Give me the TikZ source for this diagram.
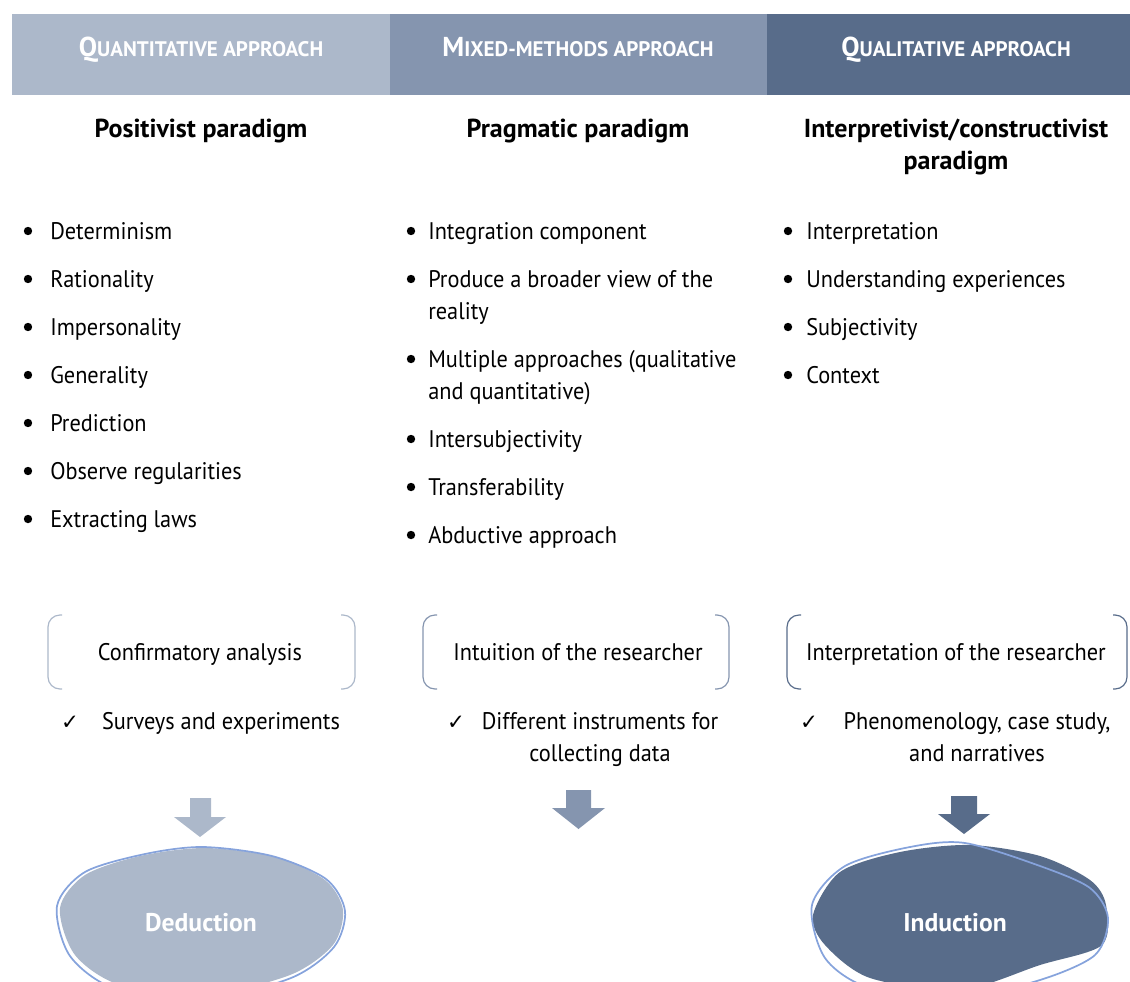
\documentclass[tikz,border=0pt]{standalone}
\usepackage{fontspec}
\setmainfont{PT Sans}
\newfontfamily\bodyfont{PT Sans}[FakeStretch=0.93]
\newfontfamily\symfont{DejaVu Sans}

\definecolor{quantc}{RGB}{172,184,202}
\definecolor{mixedc}{RGB}{133,149,175}
\definecolor{qualc}{RGB}{88,108,138}
\definecolor{rimblue}{RGB}{134,163,220}

% fake small caps for the column heads
\newcommand{\hdcaps}[2]{{\fontsize{20.5}{20}\selectfont #1}{\fontsize{15.8}{20}\selectfont #2}}
\newcommand{\tick}{{\symfont\fontsize{16}{16}\selectfont ✓}}

\tikzset{
  body/.style={font=\bodyfont\fontsize{18}{24}\selectfont, inner sep=0pt},
  head/.style={font=\bfseries, text=white, inner sep=0pt, anchor=base},
  paradigm/.style={font=\fontsize{19.5}{24}\selectfont\bfseries, inner sep=0pt, anchor=base, align=center},
  blob/.style={font=\fontsize{19.2}{24}\selectfont\bfseries, text=white, inner sep=0pt, anchor=base},
  bracket/.style={line width=0.9pt, rounded corners=9}
}

\begin{document}
\begin{tikzpicture}[x=0.75pt,y=0.75pt,yscale=-1,xscale=1]
\clip (0,0) rectangle (1130,981);
\path[use as bounding box] (0,0) rectangle (1130,981);

%Shape: Rectangle [head bands]
\fill[quantc] (12,14) rectangle (390,95);
\fill[mixedc] (390,14) rectangle (767,95);
\fill[qualc] (767,14) rectangle (1130,95);

% Text Node
\draw (201,57) node (hdquant) [head] {\hdcaps{Q}{UANTITATIVE APPROACH}};
% Text Node
\draw (578,57) node (hdmixed) [head] {\hdcaps{M}{IXED-METHODS APPROACH}};
% Text Node
\draw (956,57) node (hdqual) [head] {\hdcaps{Q}{UALITATIVE APPROACH}};

% Text Node
\draw (201,137) node (tpos) [paradigm] {Positivist paradigm};
% Text Node
\draw (578,137) node (tprag) [paradigm] {Pragmatic paradigm};
% Text Node (base sits on the last line)
\draw (956,169) node (tint) [paradigm] {Interpretivist/constructivist\\paradigm};

%Bullets: positivist
\foreach \yy/\txt [count=\i] in {239/Determinism,287/Rationality,335/Impersonality,383/Generality,431/Prediction,479/Observe regularities,527/Extracting laws}{
  \fill (28,\yy-8) circle (4.2);
  \draw (50,\yy) node (pos\i) [body, anchor=base west] {\txt};
}
%Bullets: pragmatic (\by = bullet line, \yy = last baseline)
\foreach \by/\yy/\txt [count=\i] in {239/239/Integration component,287/319/Produce a broader view of the\\reality,367/399/Multiple approaches (qualitative\\and quantitative),447/447/Intersubjectivity,495/495/Transferability,543/543/Abductive approach}{
  \fill (411,\by-8) circle (4.2);
  \draw (428,\yy) node (prag\i) [body, anchor=base west, align=left] {\txt};
}
%Bullets: interpretivist
\foreach \yy/\txt [count=\i] in {239/Interpretation,287/Understanding experiences,335/Subjectivity,383/Context}{
  \fill (788,\yy-8) circle (4.2);
  \draw (806,\yy) node (int\i) [body, anchor=base west] {\txt};
}

%Brackets
\draw[bracket, quantc] (62,615) -- (48,615) -- (48,689) -- (62,689);
\draw[bracket, quantc] (341,615) -- (355,615) -- (355,689) -- (341,689);
\draw[bracket, mixedc] (437,615) -- (423,615) -- (423,689) -- (437,689);
\draw[bracket, mixedc] (715,615) -- (729,615) -- (729,689) -- (715,689);
\draw[bracket, qualc] (801,615) -- (787,615) -- (787,689) -- (801,689);
\draw[bracket, qualc] (1113,615) -- (1127,615) -- (1127,689) -- (1113,689);

% Text Node
\draw (200,660) node (anquant) [body, anchor=base] {Confirmatory analysis};
% Text Node
\draw (578,660) node (anmixed) [body, anchor=base] {Intuition of the researcher};
% Text Node
\draw (956,660) node (anqual) [body, anchor=base] {Interpretation of the researcher};

% Text Node
\draw (70,729) node (ckquant) [body, anchor=base] {\tick};
\draw (221,729) node (inquant) [body, anchor=base] {Surveys and experiments};
% Text Node
\draw (456,729) node (ckmixed) [body, anchor=base] {\tick};
\draw (600,761) node (inmixed) [body, anchor=base, align=center] {Different instruments for\\collecting data};
% Text Node
\draw (809,729) node (ckqual) [body, anchor=base] {\tick};
\draw (977,761) node (inqual) [body, anchor=base, align=center] {Phenomenology, case study,\\and narratives};

%Shape: Down Arrow
\fill[quantc] (190,798) -- (211,798) -- (211,817) -- (226,817) -- (200,837) -- (174,817) -- (190,817) -- cycle;
\fill[mixedc] (566,790) -- (591,790) -- (591,808) -- (605,808) -- (578.5,829) -- (552,808) -- (566,808) -- cycle;
\fill[qualc] (951,796) -- (977,796) -- (977,814) -- (990,814) -- (964,834) -- (938,814) -- (951,814) -- cycle;

%Shape: Free Form [deduction]
\fill[quantc] plot[smooth cycle] coordinates {(60,908) (85,875) (140,856) (205,848) (275,857) (325,880) (343,910) (333,945) (290,975) (205,995) (120,985) (75,955)};
\draw[rimblue, line width=1.3pt] plot[smooth cycle] coordinates {(57,906) (85,872) (145,854) (203,847) (272,856) (326,879) (345,911) (334,947) (291,978) (205,999) (116,989) (70,956)};
% Text Node
\draw (201,931) node (deduct) [blob] {Deduction};

%Shape: Free Form [induction]
\fill[qualc] plot[smooth cycle] coordinates {(813,915) (840,872) (900,852) (970,845) (1040,856) (1090,880) (1106,905) (1102,945) (1040,965) (960,990) (870,978) (825,945)};
\draw[rimblue, line width=1.3pt] plot[smooth cycle] coordinates {(812,905) (845,866) (910,847) (965,843) (1040,866) (1090,888) (1108,918) (1095,955) (1040,980) (960,997) (870,988) (825,958)};
% Text Node
\draw (955,931) node (induct) [blob] {Induction};

\end{tikzpicture}
\end{document}
